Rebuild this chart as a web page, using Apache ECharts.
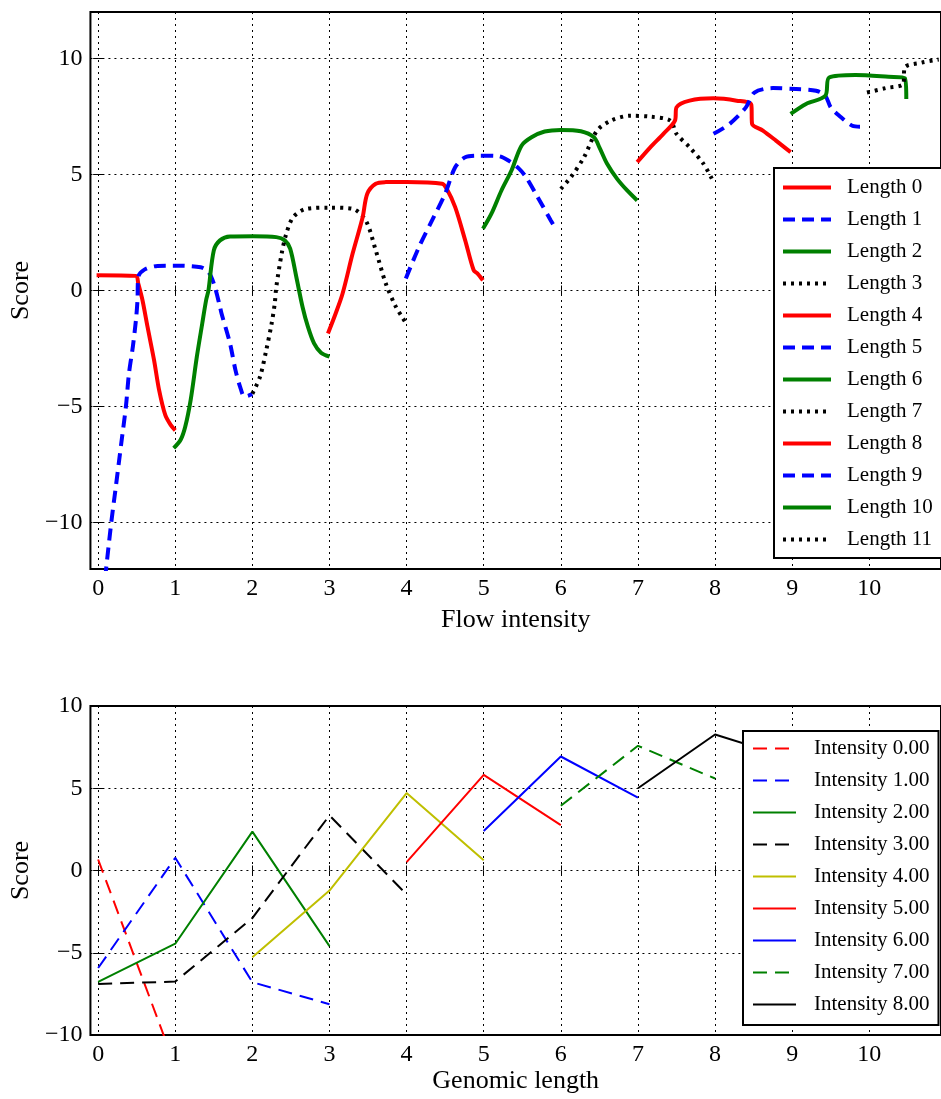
<!DOCTYPE html>
<html>
<head>
    <meta charset="utf-8">
    <title>Score vs flow intensity / genomic length</title>
    <script src="https://cdn.jsdelivr.net/npm/echarts@6/dist/echarts.min.js"></script>
    <style>
        html, body {
            width: 100%;
            height: 100%;
            margin: 0;
            background: #ffffff;
        }
    </style>
</head>
<body>
    <div id="main" style="width: 941px;height:1099px;"></div>
    <script type="text/javascript">

        // top panel: score against flow intensity, one curve per genomic length
        var lengthNames = ['Length 0', 'Length 1', 'Length 2', 'Length 3', 'Length 4', 'Length 5',
                           'Length 6', 'Length 7', 'Length 8', 'Length 9', 'Length 10', 'Length 11'];

        var len0 = [[-0.02,0.66],[0.49,0.63],[0.52,0.3],[0.575,-0.42],[0.64,-1.56],[0.725,-3.0],[0.79,-4.28],
                    [0.87,-5.36],[0.94,-5.79],[1.0,-6.03]];
        var len1 = [[0.09,-12.4],[0.17,-10.0],[0.23,-8.44],[0.30,-6.58],[0.36,-5.0],[0.40,-3.57],[0.45,-2.42],
                    [0.49,-1.28],[0.51,-0.42],[0.52,0.58],[0.60,0.9],[0.77,1.06],[0.98,1.07],[1.33,1.0],
                    [1.43,0.8],[1.50,0.3],[1.58,-0.7],[1.60,-0.99],[1.71,-2.28],[1.78,-3.42],[1.84,-4.14],
                    [1.90,-4.57],[2.0,-4.47]];
        var len2 = [[0.98,-6.79],[1.07,-6.43],[1.13,-5.86],[1.2,-4.71],[1.28,-2.85],[1.35,-1.42],[1.4,-0.42],
                    [1.43,0.0],[1.50,1.73],[1.58,2.16],[1.71,2.33],[2.01,2.34],[2.31,2.30],[2.42,2.16],
                    [2.49,1.8],[2.57,0.58],[2.65,-0.7],[2.72,-1.56],[2.80,-2.28],[2.89,-2.68],[3.0,-2.85]];
        var len3 = [[2.0,-4.45],[2.1,-3.71],[2.18,-2.57],[2.25,-1.42],[2.29,-0.56],[2.31,0.15],[2.38,1.59],
                    [2.44,2.45],[2.53,3.16],[2.70,3.52],[3.0,3.57],[3.30,3.52],[3.47,3.02],[3.60,1.73],
                    [3.73,0.3],[3.86,-0.7],[3.94,-1.13],[3.98,-1.35]];
        var len4 = [[2.98,-1.85],[3.08,-0.99],[3.17,-0.13],[3.30,1.59],[3.43,3.16],[3.49,4.17],[3.60,4.6],
                    [3.73,4.67],[4.0,4.68],[4.46,4.6],[4.52,4.38],[4.63,3.59],[4.76,2.16],[4.87,0.87],
                    [4.92,0.73],[4.99,0.44]];
        var len5 = [[3.99,0.52],[4.16,1.87],[4.33,3.02],[4.5,4.17],[4.63,5.31],[4.76,5.74],[4.93,5.81],
                    [5.19,5.79],[5.32,5.6],[5.46,5.24],[5.55,4.88],[5.70,4.02],[5.87,3.02],[5.92,2.73]];
        var len6 = [[4.99,2.66],[5.10,3.31],[5.23,4.31],[5.36,5.17],[5.49,6.24],[5.62,6.6],[5.79,6.85],
                    [6.0,6.92],[6.26,6.86],[6.43,6.6],[6.5,6.17],[6.60,5.46],[6.73,4.81],[6.86,4.31],[6.99,3.88]];
        var len7 = [[6.0,4.38],[6.13,4.88],[6.30,5.74],[6.47,6.89],[6.65,7.32],[6.90,7.53],[7.16,7.49],
                    [7.42,7.32],[7.50,6.75],[7.67,6.17],[7.85,5.46],[7.97,4.74]];
        var len8 = [[6.99,5.53],[7.16,6.17],[7.33,6.75],[7.48,7.32],[7.50,7.89],[7.67,8.18],[7.98,8.28],
                    [8.28,8.18],[8.47,8.01],[8.48,7.18],[8.62,6.89],[8.79,6.46],[8.98,5.96]];
        var len9 = [[7.98,6.75],[8.19,7.18],[8.40,7.89],[8.51,8.53],[8.75,8.72],[9.05,8.68],[9.31,8.61],
                    [9.43,8.39],[9.50,7.89],[9.61,7.53],[9.78,7.10],[9.88,7.06]];
        var len10 = [[8.98,7.61],[9.18,8.04],[9.43,8.39],[9.48,9.18],[9.82,9.29],[10.25,9.21],[10.46,9.15],
                     [10.48,8.25]];
        var len11 = [[9.97,8.53],[10.21,8.72],[10.44,8.90],[10.46,9.61],[10.68,9.82],[10.9,9.95]];
        var lengthCurves = [len0, len1, len2, len3, len4, len5, len6, len7, len8, len9, len10, len11];

        // bottom panel: score against genomic length, one line per intensity
        var intensityNames = ['Intensity 0.00', 'Intensity 1.00', 'Intensity 2.00', 'Intensity 3.00',
                              'Intensity 4.00', 'Intensity 5.00', 'Intensity 6.00', 'Intensity 7.00',
                              'Intensity 8.00'];
        var int0 = [[0,0.67],[1,-11.9]];
        var int1 = [[0,-5.93],[1,0.77],[2,-6.79],[3,-8.13]];
        var int2 = [[0,-6.77],[1,-4.45],[2,2.36],[3,-4.6]];
        var int3 = [[0,-6.9],[1,-6.75],[2,-2.89],[3,3.35],[4,-1.46]];
        var int4 = [[2,-5.28],[3,-1.22],[4,4.71],[5,0.63]];
        var int5 = [[4,0.51],[5,5.81],[6,2.76]];
        var int6 = [[5,2.4],[6,6.93],[7,4.43]];
        var int7 = [[6,3.94],[7,7.58],[8,5.59]];
        var int8 = [[7,5.0],[8,8.27],[9,6.8]];
        var intensityLines = [int0, int1, int2, int3, int4, int5, int6, int7, int8];

        var xTicks = [0, 1, 2, 3, 4, 5, 6, 7, 8, 9, 10];
        var yTicks = [-10, -5, 0, 5, 10];

        // styles
        var topColors = ['#ff0000', '#0000ff', '#008000', '#000000'];
        var topDash = ['solid', [12, 7], 'solid', [3, 5]];
        var botColors = ['#ff0000', '#0000ff', '#008000', '#000000', '#bfbf00', '#ff0000', '#0000ff', '#008000', '#000000'];
        var botDash = [[14, 8], [14, 8], 'solid', [14, 8], 'solid', 'solid', 'solid', [14, 8], 'solid'];

        var serif = "'Liberation Serif', 'DejaVu Serif', serif";

        function valueAxis(grid, min, max, ticks, pos, name, gap) {
            return {
                type: 'value',
                gridIndex: grid,
                position: pos,
                min: min,
                max: max,
                name: name,
                nameLocation: 'middle',
                nameGap: gap,
                nameTextStyle: { fontFamily: serif, fontSize: 26, color: '#000' },
                axisLine: { show: false },
                axisTick: { show: true, inside: true, length: 5, customValues: ticks,
                            lineStyle: { color: '#000', width: 1 } },
                axisLabel: { show: name !== '', customValues: ticks, fontFamily: serif, fontSize: 24,
                             color: '#000', margin: 8,
                             formatter: function (v) { return String(v).replace('-', '\u2212'); } },
                splitLine: { show: name !== '', lineStyle: { color: '#000', width: 1, type: [2, 4] } }
            };
        }

        var myChart = echarts.init(document.getElementById('main'));

        var series = [];
        lengthCurves.forEach(function (d, i) {
            series.push({
                name: lengthNames[i],
                type: 'line',
                xAxisIndex: 0,
                yAxisIndex: 0,
                data: d,
                symbol: 'none',
                smooth: 0.3,
                clip: true,
                lineStyle: { color: topColors[i % 4], width: 4, type: topDash[i % 4] },
                itemStyle: { color: topColors[i % 4] }
            });
        });
        intensityLines.forEach(function (d, i) {
            series.push({
                name: intensityNames[i],
                type: 'line',
                xAxisIndex: 2,
                yAxisIndex: 2,
                data: d,
                symbol: 'none',
                clip: true,
                lineStyle: { color: botColors[i], width: 2, type: botDash[i] },
                itemStyle: { color: botColors[i] }
            });
        });

        var option = {
            animation: false,
            backgroundColor: '#ffffff',
            grid: [
                { left: 89, top: 12, right: -6, height: 557, show: true, borderColor: '#000', borderWidth: 2 },
                { left: 89, top: 706, right: -6, height: 329, show: true, borderColor: '#000', borderWidth: 2 }
            ],
            xAxis: [
                valueAxis(0, -0.1, 10.93, xTicks, 'bottom', 'Flow intensity', 38),
                valueAxis(0, -0.1, 10.93, xTicks, 'top', '', 0),
                valueAxis(1, -0.1, 10.93, xTicks, 'bottom', 'Genomic length', 33),
                valueAxis(1, -0.1, 10.93, xTicks, 'top', '', 0)
            ],
            yAxis: [
                valueAxis(0, -12, 12, yTicks, 'left', 'Score', 54),
                valueAxis(0, -12, 12, yTicks, 'right', '', 0),
                valueAxis(1, -10, 10, yTicks, 'left', 'Score', 54),
                valueAxis(1, -10, 10, yTicks, 'right', '', 0)
            ],
            legend: [
                {
                    data: lengthNames,
                    orient: 'vertical',
                    left: 774,
                    top: 168,
                    itemWidth: 48,
                    itemHeight: 14,
                    itemGap: 11,
                    padding: [9, 18, 8, 7],
                    backgroundColor: '#ffffff',
                    borderColor: '#000',
                    borderWidth: 2,
                    borderRadius: 0,
                    itemStyle: { opacity: 0 },
                    lineStyle: { width: 4 },
                    textStyle: { fontFamily: serif, fontSize: 21, color: '#000', lineHeight: 20,
                                 padding: [0, 0, 0, 11] }
                },
                {
                    data: intensityNames,
                    orient: 'vertical',
                    left: 743,
                    top: 731,
                    itemWidth: 43,
                    itemHeight: 14,
                    itemGap: 11,
                    padding: [7, 9, 10, 9],
                    backgroundColor: '#ffffff',
                    borderColor: '#000',
                    borderWidth: 2,
                    borderRadius: 0,
                    itemStyle: { opacity: 0 },
                    lineStyle: { width: 2 },
                    textStyle: { fontFamily: serif, fontSize: 21, color: '#000', lineHeight: 20,
                                 padding: [0, 0, 0, 13] }
                }
            ],
            series: series
        };

        myChart.setOption(option);
    </script>
</body>
</html>
